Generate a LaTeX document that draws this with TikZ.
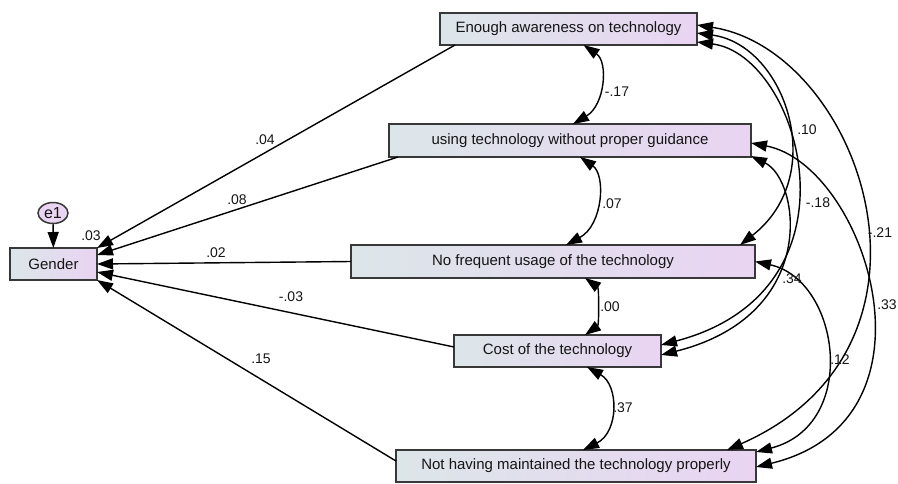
\documentclass[tikz,border=0pt]{standalone}
\usepackage{fontspec}
\setmainfont{Liberation Sans}
\usetikzlibrary{arrows.meta,calc,shapes.geometric}
\definecolor{boxL}{HTML}{DCE6E9}
\definecolor{boxR}{HTML}{E9D4F2}
\definecolor{ink}{HTML}{151515}
\begin{document}
\begin{tikzpicture}[x=1pt,y=-1pt,
  var/.style={draw=ink!85, line width=1.5pt, left color=boxL, right color=boxR,
    rectangle, inner sep=0pt, outer sep=0pt, font=\fontsize{15}{18}\selectfont, text=ink},
  err/.style={draw=ink!85, line width=1.5pt, fill=boxR, ellipse, inner sep=0pt,
    minimum width=30pt, minimum height=21pt, font=\fontsize{16}{18}\selectfont, text=ink},
  arr/.style={-{Triangle[length=16pt,width=11pt]}, line width=1.4pt, draw=black},
  cov/.style={{Triangle[length=16pt,width=11pt]}-{Triangle[length=16pt,width=11pt]}, line width=1.4pt, draw=black},
  lab/.style={font=\fontsize{14}{16}\selectfont, text=ink, inner sep=0pt}]
\useasboundingbox (0,0) rectangle (898,483);

% variables
\node[var, minimum width=257pt, minimum height=32pt] (E) at (568.5,29) {Enough awareness on technology};
\node[var, minimum width=362pt, minimum height=33pt] (U) at (570,140.5) {using technology without proper guidance};
\node[var, minimum width=404pt, minimum height=33pt] (N) at (553,261.5) {No frequent usage of the technology};
\node[var, minimum width=207pt, minimum height=32pt] (C) at (557.5,351) {Cost of the technology};
\node[var, minimum width=360pt, minimum height=32pt] (H) at (576,466) {Not having maintained the technology properly};
\node[var, minimum width=87pt, minimum height=32pt] (G) at (53.5,264) {Gender};
\node[err] (e1) at (53,213) {e1};

% regression paths
\draw[arr] (e1) -- (G);
\draw[arr] ($(E.south west)+(15,0)$) -- (G.north east);
\draw[arr] ($(U.south west)+(9,0)$) -- ($(G.east)+(0,-9)$);
\draw[arr] (N.west) -- (G.east);
\draw[arr] ($(C.west)+(0,-4)$) -- ($(G.east)+(0,8)$);
\draw[arr] ($(H.west)+(0,-5)$) -- (G.south east);

% adjacent covariances
\draw[cov] ($(E.south)+(15,0)$) .. controls +(25,17) and +(32,-19) .. ($(U.north)+(3,0)$);
\draw[cov] ($(U.south)+(10,0)$) .. controls +(26,18) and +(37,-20) .. ($(N.north)+(13,0)$);
\draw[cov] ($(N.south)+(32,0)$) .. controls +(14,10) and +(14,-10) .. ($(C.north)+(27.5,0)$);
\draw[cov] ($(C.south)+(29.5,0)$) .. controls +(32,18) and +(36,-18) .. ($(H.north)+(7,0)$);

% long covariances
\draw[cov] ($(E.east)+(0,4)$) .. controls +(88,12) and +(90,-70) .. ($(N.north east)+(-15,0)$);
\draw[cov] ($(E.east)+(0,13)$) .. controls +(103,13) and +(209,-55) .. ($(C.east)+(0,-6)$);
\draw[cov] ($(E.east)+(0,-4)$) .. controls +(163,25) and +(238,-105) .. ($(H.north east)+(-29,0)$);
\draw[cov] ($(U.east)+(0,2.5)$) .. controls +(114,22) and +(194,-47) .. ($(H.east)+(0,1)$);
\draw[cov] ($(U.south east)+(0,-1)$) .. controls +(49,24) and +(159,-40) .. ($(C.east)+(0,4)$);
\draw[cov] (N.east) .. controls +(85,18.5) and +(104,-27) .. ($(H.east)+(0,-14)$);

% labels
\node[lab] (l1) at (265,140) {.04};
\node[lab] (l2) at (237,200) {.08};
\node[lab] (l3) at (216,253) {.02};
\node[lab] (l4) at (291,297) {-.03};
\node[lab] (l5) at (261,359) {.15};
\node[lab] (l6) at (91,236) {.03};
\node[lab] (l7) at (617,92) {-.17};
\node[lab] (l8) at (612,204) {.07};
\node[lab] (l9) at (610,307) {.00};
\node[lab] (l10) at (623,408) {.37};
\node[lab] (l11) at (807,130) {.10};
\node[lab] (l12) at (818,203) {-.18};
\node[lab] (l13) at (880,233) {-.21};
\node[lab] (l14) at (887,305) {.33};
\node[lab] (l15) at (792,279) {.34};
\node[lab] (l16) at (840,360) {.12};
\end{tikzpicture}
\end{document}
